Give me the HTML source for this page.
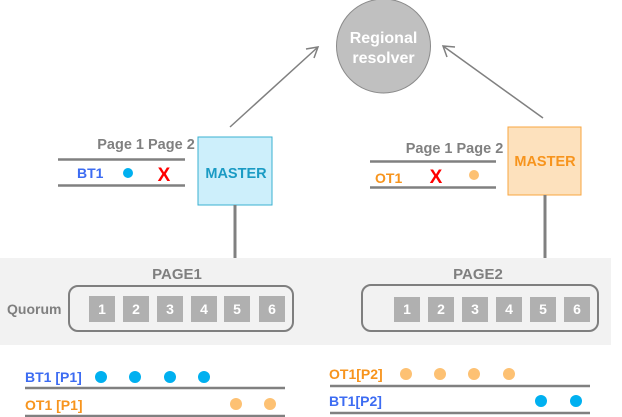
<!DOCTYPE html>
<html><head><meta charset="utf-8"><style>
html,body{margin:0;padding:0;background:#fff;width:622px;height:417px;overflow:hidden}
text{font-family:"Liberation Sans",Arial,sans-serif;font-weight:bold}
</style></head><body>
<svg width="622" height="417" viewBox="0 0 622 417" xmlns="http://www.w3.org/2000/svg">
<rect x="0" y="258" width="611" height="87" fill="#f2f2f2"/>
<circle cx="383.5" cy="46" r="47" fill="#c0c0c0" stroke="#8a8a8a" stroke-width="1"/>
<text x="383.5" y="43" font-size="16" fill="#fff" text-anchor="middle">Regional</text>
<text x="383.5" y="63" font-size="16" fill="#fff" text-anchor="middle">resolver</text>
<g stroke="#808080" stroke-width="1.5" fill="none">
<line x1="230" y1="127" x2="318" y2="47"/>
<polyline points="306,49 318,47 314,58"/>
<line x1="543" y1="118" x2="443" y2="46"/>
<polyline points="447,57 443,46 455,47"/>
</g>
<text x="146" y="149" font-size="14.5" fill="#808080" text-anchor="middle">Page 1 Page 2</text>
<line x1="58" y1="159.5" x2="185" y2="159.5" stroke="#808080" stroke-width="2.5"/>
<line x1="58" y1="185.5" x2="185" y2="185.5" stroke="#808080" stroke-width="2.5"/>
<text x="77" y="178" font-size="14" fill="#3d6cf2">BT1</text>
<circle cx="128" cy="173" r="5" fill="#00b0f0"/>
<text x="164" y="181" font-size="19" fill="#ff0000" text-anchor="middle">X</text>
<rect x="198" y="137" width="74" height="68" fill="#cdeffb" stroke="#3ab0d0" stroke-width="1"/>
<text x="236" y="178" font-size="14.5" fill="#1a9bc4" text-anchor="middle">MASTER</text>
<line x1="235" y1="205" x2="235" y2="258" stroke="#808080" stroke-width="3"/>
<text x="454.5" y="153" font-size="14.5" fill="#808080" text-anchor="middle">Page 1 Page 2</text>
<line x1="370" y1="161.5" x2="496" y2="161.5" stroke="#808080" stroke-width="2.5"/>
<line x1="370" y1="187.5" x2="496" y2="187.5" stroke="#808080" stroke-width="2.5"/>
<text x="375" y="183" font-size="14" fill="#f7941d">OT1</text>
<text x="436" y="183" font-size="19" fill="#ff0000" text-anchor="middle">X</text>
<circle cx="474" cy="175" r="5" fill="#fdc173"/>
<rect x="508" y="127" width="73" height="68" fill="#fde1bd" stroke="#f8a640" stroke-width="1"/>
<text x="545" y="166" font-size="14.5" fill="#f7941d" text-anchor="middle">MASTER</text>
<line x1="545" y1="195" x2="545" y2="258" stroke="#808080" stroke-width="3"/>
<text x="177" y="279" font-size="15" fill="#7f7f7f" text-anchor="middle">PAGE1</text>
<text x="7" y="314" font-size="14" fill="#7f7f7f">Quorum</text>
<rect x="69" y="286" width="224" height="45" rx="9" fill="none" stroke="#7f7f7f" stroke-width="2"/>
<g fill="#b0b0b0">
<rect x="89" y="296" width="26" height="26"/><rect x="123" y="296" width="26" height="26"/><rect x="157" y="296" width="26" height="26"/><rect x="191" y="296" width="26" height="26"/><rect x="224" y="296" width="26" height="26"/><rect x="259" y="296" width="26" height="26"/>
</g>
<g font-size="14" fill="#fff" text-anchor="middle">
<text x="102" y="314">1</text><text x="136" y="314">2</text><text x="170" y="314">3</text><text x="204" y="314">4</text><text x="237" y="314">5</text><text x="272" y="314">6</text>
</g>
<text x="478" y="279" font-size="15" fill="#7f7f7f" text-anchor="middle">PAGE2</text>
<rect x="362" y="285" width="236" height="46" rx="9" fill="none" stroke="#7f7f7f" stroke-width="2"/>
<g fill="#b0b0b0">
<rect x="394" y="297" width="26" height="25"/><rect x="428" y="297" width="26" height="25"/><rect x="462" y="297" width="26" height="25"/><rect x="496" y="297" width="26" height="25"/><rect x="530" y="297" width="26" height="25"/><rect x="564" y="297" width="26" height="25"/>
</g>
<g font-size="14" fill="#fff" text-anchor="middle">
<text x="407" y="314">1</text><text x="441" y="314">2</text><text x="475" y="314">3</text><text x="509" y="314">4</text><text x="543" y="314">5</text><text x="577" y="314">6</text>
</g>
<text x="25" y="382" font-size="14" fill="#3d6cf2">BT1 [P1]</text>
<g fill="#00b0f0"><circle cx="101" cy="377" r="6"/><circle cx="135" cy="377" r="6"/><circle cx="170" cy="377" r="6"/><circle cx="204" cy="377" r="6"/></g>
<line x1="25" y1="388" x2="285" y2="388" stroke="#808080" stroke-width="2.5"/>
<text x="25" y="410" font-size="14" fill="#f7941d">OT1 [P1]</text>
<g fill="#fdc173"><circle cx="236" cy="404" r="6"/><circle cx="270" cy="404" r="6"/></g>
<line x1="25" y1="416" x2="285" y2="416" stroke="#808080" stroke-width="2.5"/>
<text x="329" y="379" font-size="14" fill="#f7941d">OT1[P2]</text>
<g fill="#fdc173"><circle cx="406" cy="374" r="6"/><circle cx="440" cy="374" r="6"/><circle cx="474" cy="374" r="6"/><circle cx="509" cy="374" r="6"/></g>
<line x1="330" y1="386" x2="590" y2="386" stroke="#808080" stroke-width="2.5"/>
<text x="329" y="406" font-size="14" fill="#3d6cf2">BT1[P2]</text>
<g fill="#00b0f0"><circle cx="541" cy="401" r="6"/><circle cx="576" cy="401" r="6"/></g>
<line x1="330" y1="413" x2="590" y2="413" stroke="#808080" stroke-width="2.5"/>
</svg>
</body></html>
